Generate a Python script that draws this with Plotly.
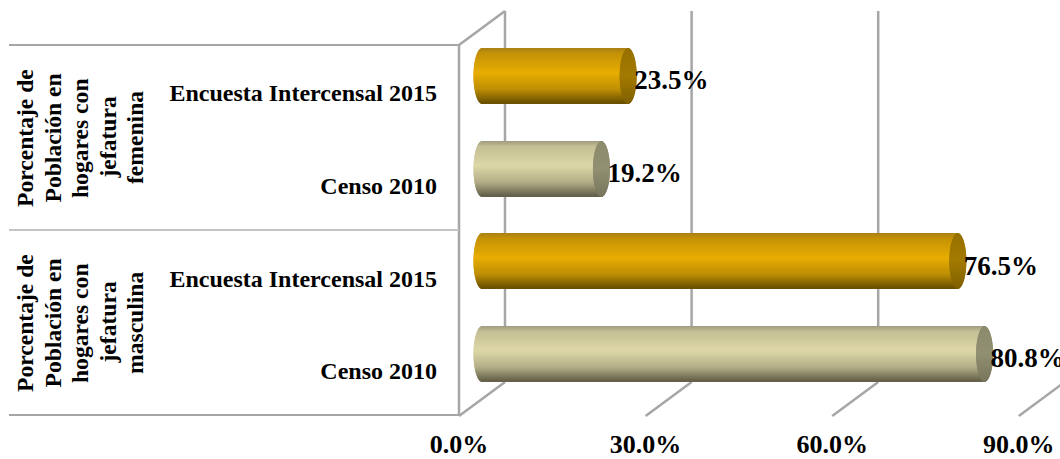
import plotly.graph_objects as go

# ---- data ----
row_labels = ["Censo 2010", "Encuesta Intercensal 2015", "Censo 2010", "Encuesta Intercensal 2015"]
row_values = [80.8, 76.5, 19.2, 23.5]
row_series = ["censo", "encuesta", "censo", "encuesta"]
value_labels = ["80.8%", "76.5%", "19.2%", "23.5%"]
group_lines_male = ["Porcentaje de", "Población en", "hogares con", "jefatura", "masculina"]
group_lines_female = ["Porcentaje de", "Población en", "hogares con", "jefatura", "femenina"]
axis_ticks = [0, 30, 60, 90]
axis_tick_labels = ["0.0%", "30.0%", "60.0%", "90.0%"]

# ---- geometry ----
W, H = 1060, 459
PX_PER_UNIT = 6.22
ROW_STEP = 92.67
BAR_PX = 55
CAP_PX = 8.5
N_STRIPS = 55
FONT = "Liberation Serif"
BLACK = "#000000"
WALL = "#a6a6a6"
rows = list(range(len(row_values)))


def x_range(zero_px):
    return [-zero_px / PX_PER_UNIT, (W - zero_px) / PX_PER_UNIT]


def y_range(zero_px):
    return [(zero_px - H) / ROW_STEP, zero_px / ROW_STEP]


def lerp(stops, t):
    for (t0, c0), (t1, c1) in zip(stops, stops[1:]):
        if t <= t1:
            f = (t - t0) / (t1 - t0)
            return "rgb(%d,%d,%d)" % tuple(round(a + (b - a) * f) for a, b in zip(c0, c1))
    return "rgb(%d,%d,%d)" % stops[-1][1]


body_stops = {
    "encuesta": [(0, (170, 130, 20)), (0.1, (196, 146, 6)), (0.45, (232, 173, 2)), (0.75, (190, 142, 4)), (1, (104, 78, 0))],
    "censo": [(0, (160, 155, 125)), (0.1, (196, 191, 148)), (0.45, (221, 215, 168)), (0.75, (178, 173, 135)), (1, (98, 94, 72))],
}
cap_stops = {
    "encuesta": [(0, (150, 112, 0)), (0.5, (163, 122, 0)), (1, (128, 96, 0))],
    "censo": [(0, (140, 138, 108)), (0.5, (146, 144, 114)), (1, (120, 118, 92))],
}

fig = go.Figure()

strip_h = (BAR_PX / ROW_STEP) / N_STRIPS
for i in range(N_STRIPS):
    t = (i + 0.5) / N_STRIPS
    bulge = (1 - (2 * t - 1) ** 2) ** 0.5 * CAP_PX / PX_PER_UNIT
    off = BAR_PX / ROW_STEP / 2 - (i + 1) * strip_h
    # cylinder body, rounded at the far left
    fig.add_trace(go.Bar(
        x=[v + bulge for v in row_values], y=rows, base=-bulge, orientation="h",
        width=strip_h * 1.05, offset=off,
        marker=dict(color=[lerp(body_stops[s], t) for s in row_series], line_width=0),
        hoverinfo="skip", showlegend=False))
for i in range(N_STRIPS):
    t = (i + 0.5) / N_STRIPS
    bulge = (1 - (2 * t - 1) ** 2) ** 0.5 * CAP_PX / PX_PER_UNIT
    off = BAR_PX / ROW_STEP / 2 - (i + 1) * strip_h
    # end cap of the cylinder
    fig.add_trace(go.Bar(
        x=[2 * bulge] * len(row_values), y=rows, base=[v - bulge for v in row_values], orientation="h",
        width=strip_h * 1.05, offset=off,
        marker=dict(color=[lerp(cap_stops[s], t) for s in row_series], line_width=0),
        hoverinfo="skip", showlegend=False))

# value labels
fig.add_trace(go.Scatter(
    x=[v + 6 / PX_PER_UNIT for v in row_values], y=[r - 6.5 / ROW_STEP for r in rows], mode="text", text=value_labels,
    textposition="middle right", cliponaxis=False,
    textfont=dict(family=FONT, size=27, color=BLACK, weight=700), hoverinfo="skip", showlegend=False))

# carrier for the tick-label axes
fig.add_trace(go.Scatter(x=axis_ticks[:1] * 4, y=rows, xaxis="x2", yaxis="y2", mode="markers",
                         marker=dict(opacity=0), hoverinfo="skip", showlegend=False))


def px(x):
    return x / W


def py(y):
    return 1 - y / H


def wall(x0, y0, x1, y1, color=WALL, width=2.5):
    return dict(type="line", xref="paper", yref="paper", x0=px(x0), y0=py(y0), x1=px(x1), y1=py(y1),
                line=dict(color=color, width=width), layer="below")


shapes = []
FRONT0, BACK0 = 459, 505
for v in axis_ticks:
    d = v * PX_PER_UNIT
    shapes.append(wall(BACK0 + d, 11, BACK0 + d, 382))
    shapes.append(wall(FRONT0 + d, 416, BACK0 + d, 382))
shapes += [
    wall(FRONT0, 45, BACK0, 11),
    wall(FRONT0, 45, FRONT0, 416),
    wall(9, 45, FRONT0, 45, width=2),
    wall(9, 230, FRONT0, 230, color="#c4c4c4", width=2),
    wall(9, 415, FRONT0, 415, width=2),
]

annotations = []
for lines, centre_y in [(group_lines_male, 323), (group_lines_female, 138)]:
    for k, line in enumerate(lines):
        annotations.append(dict(
            xref="paper", yref="paper", x=px(25 + 27.5 * k), y=py(centre_y), text=line, textangle=-90,
            showarrow=False, xanchor="center", yanchor="middle",
            font=dict(family=FONT, size=23.6, color=BLACK, weight=700)))

fig.update_layout(
    width=W, height=H, margin=dict(l=0, r=0, t=0, b=0, autoexpand=False),
    paper_bgcolor="white", plot_bgcolor="rgba(0,0,0,0)", barmode="overlay",
    showlegend=False, shapes=shapes, annotations=annotations,
    xaxis=dict(range=x_range(482), visible=False, domain=[0, 1]),
    yaxis=dict(range=y_range(354), visible=False, domain=[0, 1]),
    xaxis2=dict(range=x_range(FRONT0), overlaying="x", anchor="free", position=py(426), side="bottom",
                tickmode="array", tickvals=axis_ticks, ticktext=axis_tick_labels,
                tickfont=dict(family=FONT, size=26, color=BLACK, weight=700),
                showgrid=False, zeroline=False, showline=False, ticks=""),
    yaxis2=dict(range=y_range(371), overlaying="y", anchor="free", position=px(437), side="left",
                tickmode="array", tickvals=rows, ticktext=row_labels,
                tickfont=dict(family=FONT, size=24, color=BLACK, weight=700),
                showgrid=False, zeroline=False, showline=False, ticks=""),
)

fig.write_html("out.html", config={"displayModeBar": False},
               post_script="document.body.style.margin='0';")
